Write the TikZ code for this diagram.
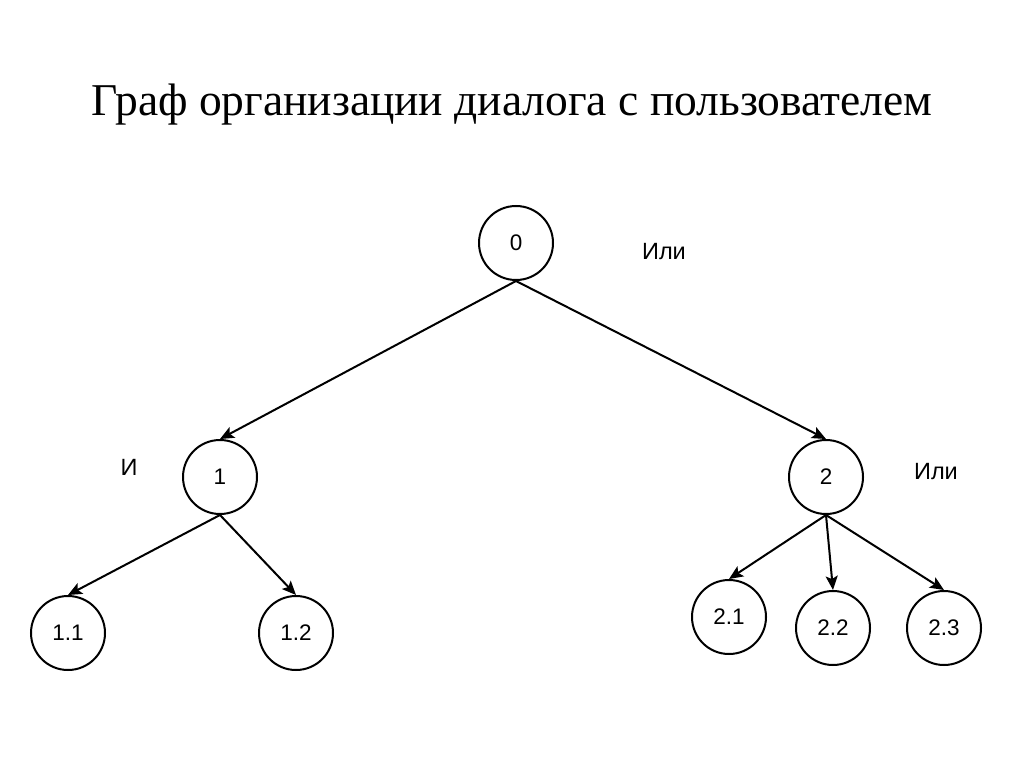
\documentclass[tikz,border=0pt]{standalone}
\usepackage{fontspec}
\setmainfont{Liberation Serif}
\newfontfamily\arialf{Liberation Sans}
\usetikzlibrary{arrows.meta}
\begin{document}
\begin{tikzpicture}[x=1pt,y=-1pt,
  vertex/.style={circle,draw,line width=2pt,minimum size=74pt,inner sep=0pt,font=\arialf\fontsize{22.5}{26}\selectfont},
  lbl/.style={font=\arialf\fontsize{23.5}{27}\selectfont,inner sep=0pt},
  edge/.style={line width=2pt,-{Stealth[length=14pt,width=12pt,inset=3pt]}}]
\useasboundingbox (0,0) rectangle (1024,767);
\node[font=\fontsize{45.5}{52}\selectfont] (title) at (512,105) {Граф организации диалога с пользователем};
\node[vertex] (n0) at (516,243) {0};
\node[vertex] (n1) at (220,477) {1};
\node[vertex] (n2) at (826,477) {2};
\node[vertex] (n11) at (68,633) {1.1};
\node[vertex] (n12) at (296,633) {1.2};
\node[vertex] (n21) at (729,617) {2.1};
\node[vertex] (n22) at (833,628) {2.2};
\node[vertex] (n23) at (944,628) {2.3};
\node[lbl] (l0) at (664,252) {Или};
\node[lbl] (l1) at (129,467) {И};
\node[lbl] (l2) at (936,472) {Или};
\draw[edge] (n0.south) -- (n1.north);
\draw[edge] (n0.south) -- (n2.north);
\draw[edge] (n1.south) -- (n11.north);
\draw[edge] (n1.south) -- (n12.north);
\draw[edge] (n2.south) -- (n21.north);
\draw[edge] (n2.south) -- (n22.north);
\draw[edge] (n2.south) -- (n23.north);
\end{tikzpicture}
\end{document}
